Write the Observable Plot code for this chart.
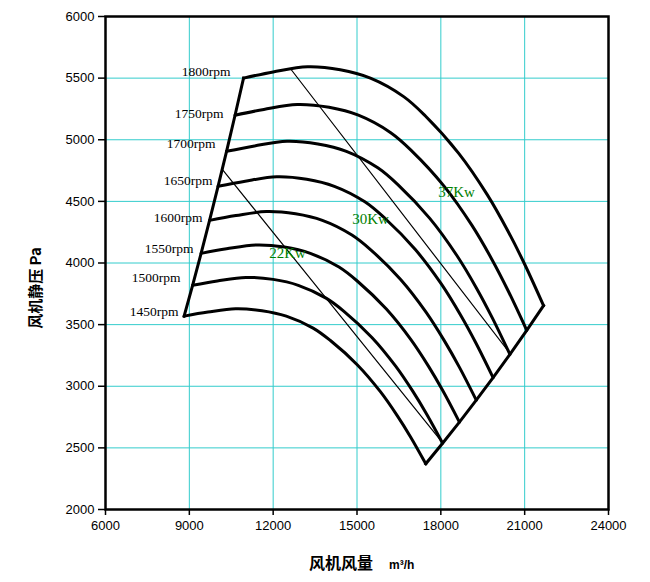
<!DOCTYPE html>
<html>
<head>
<meta charset="utf-8">
<script src="https://cdn.jsdelivr.net/npm/d3@7"></script>
<script src="https://cdn.jsdelivr.net/npm/@observablehq/plot@0.6"></script>
<style>
  html, body { margin: 0; padding: 0; background: #fff; }
</style>
</head>
<body>
<div id="chart"></div>
<script>
// ---- data ----
const rpms = [1450, 1500, 1550, 1600, 1650, 1700, 1750, 1800];

const flow1800 = [10940, 12000, 13230, 14400, 15480, 16670, 17440, 18640, 19660, 20400, 21000, 21676];
const pres1800 = [5500, 5550, 5592, 5568, 5500, 5350, 5195, 4890, 4555, 4260, 3990, 3654];
const flow1750 = [10636, 11667, 12862, 14000, 15050, 16207, 16956, 18122, 19114, 19833, 20417, 21074];
const pres1750 = [5199, 5246, 5286, 5263, 5199, 5057, 4910, 4622, 4305, 4027, 3771, 3454];
const flow1700 = [10332, 11333, 12495, 13600, 14620, 15744, 16471, 17604, 18568, 19267, 19833, 20472];
const pres1700 = [4906, 4950, 4988, 4966, 4906, 4772, 4634, 4362, 4063, 3800, 3559, 3259];
const flow1650 = [10028, 11000, 12128, 13200, 14190, 15281, 15987, 17087, 18022, 18700, 19250, 19870];
const pres1650 = [4622, 4664, 4699, 4679, 4622, 4496, 4365, 4109, 3828, 3580, 3353, 3070];
const flow1600 = [9724, 10667, 11760, 12800, 13760, 14818, 15502, 16569, 17476, 18133, 18667, 19268];
const pres1600 = [4346, 4385, 4418, 4399, 4346, 4227, 4105, 3864, 3599, 3366, 3153, 2887];
const flow1550 = [9421, 10333, 11392, 12400, 13330, 14355, 15018, 16051, 16929, 17567, 18083, 18665];
const pres1550 = [4078, 4115, 4146, 4129, 4078, 3967, 3852, 3626, 3378, 3159, 2959, 2709];
const flow1500 = [9117, 10000, 11025, 12000, 12900, 13892, 14533, 15533, 16383, 17000, 17500, 18063];
const pres1500 = [3819, 3854, 3883, 3867, 3819, 3715, 3608, 3396, 3163, 2958, 2771, 2538];
const flow1450 = [8813, 9667, 10657, 11600, 12470, 13429, 14049, 15016, 15837, 16433, 16917, 17461];
const pres1450 = [3569, 3602, 3629, 3613, 3569, 3472, 3371, 3173, 2956, 2764, 2589, 2371];

// rpm label anchors (right end of label)
const rpmLabels = ["1450rpm", "1500rpm", "1550rpm", "1600rpm", "1650rpm", "1700rpm", "1750rpm", "1800rpm"];
const labelFlow = [8613, 8684, 9150, 9472, 9830, 9937, 10223, 10474];
const labelPres = [3605, 3881, 4116, 4367, 4667, 4967, 5210, 5552];

// power lines and labels
const line22Flow = [10187, 18080];
const line22Pres = [4757, 2537];
const line30Flow = [12621, 20490];
const line30Pres = [5576, 3262];
const kwText = ["22Kw", "30Kw", "37Kw"];
const kwFlow = [12514, 15484, 18563];
const kwPres = [4076, 4359, 4578];

const xTicks = [6000, 9000, 12000, 15000, 18000, 21000, 24000];
const yTicks = [2000, 2500, 3000, 3500, 4000, 4500, 5000, 5500, 6000];

// ---- build tables ----
const flows = [flow1450, flow1500, flow1550, flow1600, flow1650, flow1700, flow1750, flow1800];
const press = [pres1450, pres1500, pres1550, pres1600, pres1650, pres1700, pres1750, pres1800];
const rows = [];
rpms.forEach((r, i) => flows[i].forEach((q, j) => rows.push({rpm: r, q, p: press[i][j]})));
const starts = rpms.map((r, i) => ({q: flows[i][0], p: press[i][0]}));
const ends = rpms.map((r, i) => ({q: flows[i][flows[i].length - 1], p: press[i][press[i].length - 1]}));
const powerRows = [
  ...line22Flow.map((q, i) => ({k: "22", q, p: line22Pres[i]})),
  ...line30Flow.map((q, i) => ({k: "30", q, p: line30Pres[i]}))
];
const labels = rpmLabels.map((t, i) => ({t, q: labelFlow[i], p: labelPres[i]}));
const kws = kwText.map((t, i) => ({t, q: kwFlow[i], p: kwPres[i]}));

const chart = Plot.plot({
  width: 650,
  height: 582,
  marginLeft: 105,
  marginRight: 42,
  marginTop: 16,
  marginBottom: 73,
  style: {fontFamily: "'Liberation Sans', Arial, sans-serif", fontSize: "13px", color: "#000", background: "#fff"},
  x: {domain: [6000, 24000]},
  y: {domain: [2000, 6000]},
  marks: [
    Plot.gridX(xTicks, {stroke: "#33cccc", strokeOpacity: 1, strokeWidth: 1}),
    Plot.gridY(yTicks, {stroke: "#33cccc", strokeOpacity: 1, strokeWidth: 1}),
    Plot.axisX({ticks: xTicks, tickSize: 6, tickPadding: 5, tickFormat: d => String(d), label: null, stroke: "#000", strokeWidth: 1.5}),
    Plot.axisY({ticks: yTicks, tickSize: 7, tickPadding: 4, tickFormat: d => String(d), label: null, stroke: "#000", strokeWidth: 1.5}),
    Plot.line(powerRows, {x: "q", y: "p", z: "k", stroke: "#000", strokeWidth: 1.2}),
    Plot.line(rows, {x: "q", y: "p", z: "rpm", curve: "catmull-rom", stroke: "#000", strokeWidth: 3}),
    Plot.line(starts, {x: "q", y: "p", stroke: "#000", strokeWidth: 3, strokeLinecap: "square"}),
    Plot.line(ends, {x: "q", y: "p", stroke: "#000", strokeWidth: 3, strokeLinecap: "square"}),
    Plot.text(labels, {x: "q", y: "p", text: "t", textAnchor: "end", fontFamily: "'Liberation Serif', serif", fontSize: 13.5, fill: "#000"}),
    Plot.text(kws, {x: "q", y: "p", text: "t", fontFamily: "'Liberation Serif', serif", fontSize: 15, fill: "#008000"}),
    Plot.frame({stroke: "#000", strokeWidth: 2.5})
  ]
});

const svg = d3.select(chart);
svg.append("text")
  .attr("transform", "translate(41,288) rotate(-90)")
  .attr("text-anchor", "middle")
  .attr("font-family", "'Noto Sans CJK SC', sans-serif")
  .attr("font-weight", "bold")
  .attr("font-size", 15)
  .attr("fill", "#000")
  .text("风机静压 Pa");
const xt = svg.append("text")
  .attr("x", 309)
  .attr("y", 569)
  .attr("text-anchor", "start")
  .attr("font-family", "'Noto Sans CJK SC', sans-serif")
  .attr("font-weight", "bold")
  .attr("fill", "#000");
xt.append("tspan").attr("font-size", 16).text("风机风量");
xt.append("tspan").attr("x", 389).attr("font-size", 12).attr("font-family", "'Liberation Sans', Arial, sans-serif").text("m³/h");

document.getElementById("chart").appendChild(chart);
</script>
</body>
</html>
